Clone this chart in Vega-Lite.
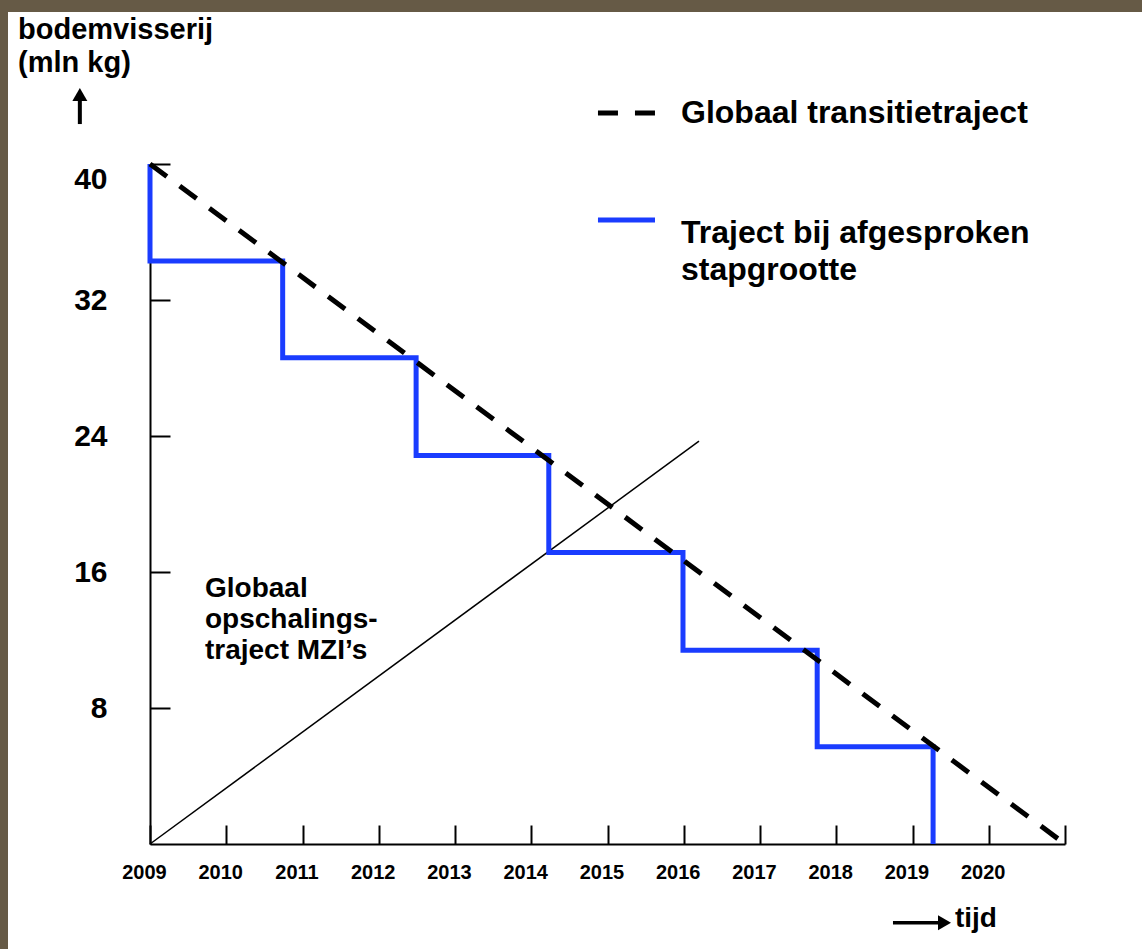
{
  "$schema": "https://vega.github.io/schema/vega-lite/v6.json",
  "autosize": {"type": "none"},
  "width": 915,
  "height": 680,
  "padding": {"left": 150, "top": 164, "right": 77, "bottom": 105},
  "background": "white",
  "config": {
    "view": {"stroke": null},
    "font": "Liberation Sans",
    "axis": {
      "domainColor": "black", "domainWidth": 2, "tickColor": "black", "tickWidth": 2,
      "labelColor": "black", "labelFont": "Liberation Sans", "labelFontWeight": "bold",
      "grid": false, "title": null
    }
  },
  "datasets": {
    "stap": [
      {"jaar": 2009, "waarde": 40, "i": 0},
      {"jaar": 2009, "waarde": 34.3, "i": 1},
      {"jaar": 2010.74, "waarde": 34.3, "i": 2},
      {"jaar": 2010.74, "waarde": 28.6, "i": 3},
      {"jaar": 2012.49, "waarde": 28.6, "i": 4},
      {"jaar": 2012.49, "waarde": 22.85, "i": 5},
      {"jaar": 2014.23, "waarde": 22.85, "i": 6},
      {"jaar": 2014.23, "waarde": 17.15, "i": 7},
      {"jaar": 2015.99, "waarde": 17.15, "i": 8},
      {"jaar": 2015.99, "waarde": 11.4, "i": 9},
      {"jaar": 2017.75, "waarde": 11.4, "i": 10},
      {"jaar": 2017.75, "waarde": 5.72, "i": 11},
      {"jaar": 2019.27, "waarde": 5.72, "i": 12},
      {"jaar": 2019.27, "waarde": 0, "i": 13}
    ],
    "transitie": [
      {"jaar": 2009, "waarde": 40},
      {"jaar": 2021, "waarde": 0}
    ],
    "opschaling": [
      {"jaar": 2009, "waarde": 0},
      {"jaar": 2016.2, "waarde": 23.7}
    ],
    "een": [{}]
  },
  "layer": [
    {
      "data": {"name": "opschaling"},
      "mark": {"type": "line", "color": "black", "strokeWidth": 1.5},
      "encoding": {
        "x": {"field": "jaar", "type": "quantitative",
          "scale": {"domain": [2009, 2021], "nice": false, "zero": false},
          "axis": {"values": [2009, 2010, 2011, 2012, 2013, 2014, 2015, 2016, 2017, 2018, 2019, 2020, 2021],
            "format": "d", "labelExpr": "datum.value == 2021 ? '' : datum.label",
            "tickSize": -19, "labelPadding": 37, "labelFontSize": 20, "labelOffset": -6,
            "labelFlush": false, "labelOverlap": false, "zindex": 0}},
        "y": {"field": "waarde", "type": "quantitative",
          "scale": {"domain": [0, 40], "nice": false, "zero": true},
          "axis": {"values": [8, 16, 24, 32, 40], "tickSize": -20, "labelPadding": 63,
            "labelFontSize": 30, "labelFlush": true, "labelOverlap": false, "zindex": 0}}
      }
    },
    {
      "data": {"name": "stap"},
      "mark": {"type": "line", "color": "#1a3cff", "strokeWidth": 5, "strokeJoin": "miter"},
      "encoding": {
        "x": {"field": "jaar", "type": "quantitative"},
        "y": {"field": "waarde", "type": "quantitative"},
        "order": {"field": "i", "type": "quantitative"}
      }
    },
    {
      "data": {"name": "transitie"},
      "mark": {"type": "line", "color": "black", "strokeWidth": 5, "strokeDash": [21, 16]},
      "encoding": {
        "x": {"field": "jaar", "type": "quantitative"},
        "y": {"field": "waarde", "type": "quantitative"}
      }
    },
    {
      "data": {"name": "een"},
      "mark": {"type": "rule", "color": "black", "strokeWidth": 5, "strokeDash": [20, 17]},
      "encoding": {"x": {"datum": 2014.875}, "x2": {"datum": 2015.623}, "y": {"datum": 43.0}}
    },
    {
      "data": {"name": "een"},
      "mark": {"type": "rule", "color": "#1a3cff", "strokeWidth": 5},
      "encoding": {"x": {"datum": 2014.875}, "x2": {"datum": 2015.623}, "y": {"datum": 36.7}}
    },
    {
      "data": {"name": "een"},
      "mark": {"type": "text", "align": "left", "baseline": "alphabetic", "fontSize": 32, "fontWeight": "bold", "color": "black"},
      "encoding": {"x": {"datum": 2015.964}, "y": {"datum": 42.43}, "text": {"value": "Globaal transitietraject"}}
    },
    {
      "data": {"name": "een"},
      "mark": {"type": "text", "align": "left", "baseline": "alphabetic", "fontSize": 32, "fontWeight": "bold", "color": "black", "lineBreak": "\n", "lineHeight": 37},
      "encoding": {"x": {"datum": 2015.964}, "y": {"datum": 35.35}, "text": {"value": "Traject bij afgesproken\nstapgrootte"}}
    },
    {
      "data": {"name": "een"},
      "mark": {"type": "text", "align": "left", "baseline": "alphabetic", "fontSize": 28, "fontWeight": "bold", "color": "black", "lineBreak": "\n", "lineHeight": 31},
      "encoding": {"x": {"datum": 2009.721}, "y": {"datum": 14.53}, "text": {"value": "Globaal\nopschalings-\ntraject MZI’s"}}
    },
    {
      "data": {"name": "een"},
      "mark": {"type": "text", "align": "left", "baseline": "alphabetic", "fontSize": 29, "fontWeight": "bold", "color": "black", "lineBreak": "\n", "lineHeight": 33},
      "encoding": {"x": {"datum": 2007.269}, "y": {"datum": 47.35}, "text": {"value": "bodemvisserij\n(mln kg)"}}
    },
    {
      "data": {"name": "een"},
      "mark": {"type": "rule", "color": "black", "strokeWidth": 4},
      "encoding": {"x": {"datum": 2008.08}, "y": {"datum": 42.35}, "y2": {"datum": 44.0}}
    },
    {
      "data": {"name": "een"},
      "mark": {"type": "point", "shape": "triangle-up", "size": 225, "filled": true, "color": "black", "opacity": 1},
      "encoding": {"x": {"datum": 2008.08}, "y": {"datum": 44.09}}
    },
    {
      "data": {"name": "een"},
      "mark": {"type": "rule", "color": "black", "strokeWidth": 3.5},
      "encoding": {"x": {"datum": 2018.744}, "x2": {"datum": 2019.42}, "y": {"datum": -4.63}}
    },
    {
      "data": {"name": "een"},
      "mark": {"type": "point", "shape": "triangle-right", "size": 225, "filled": true, "color": "black", "opacity": 1},
      "encoding": {"x": {"datum": 2019.42}, "y": {"datum": -4.63}}
    },
    {
      "data": {"name": "een"},
      "mark": {"type": "text", "align": "left", "baseline": "alphabetic", "fontSize": 28, "fontWeight": "bold", "color": "black"},
      "encoding": {"x": {"datum": 2019.557}, "y": {"datum": -4.88}, "text": {"value": "tijd"}}
    },
    {
      "data": {"name": "een"},
      "mark": {"type": "rect", "color": "#665a46"},
      "encoding": {"x": {"datum": 2000}, "x2": {"datum": 2007.1377}, "y": {"datum": -100}, "y2": {"datum": 100}}
    },
    {
      "data": {"name": "een"},
      "mark": {"type": "rect", "color": "#665a46"},
      "encoding": {"x": {"datum": 2000}, "x2": {"datum": 2040}, "y": {"datum": 48.94}, "y2": {"datum": 100}}
    }
  ]
}
